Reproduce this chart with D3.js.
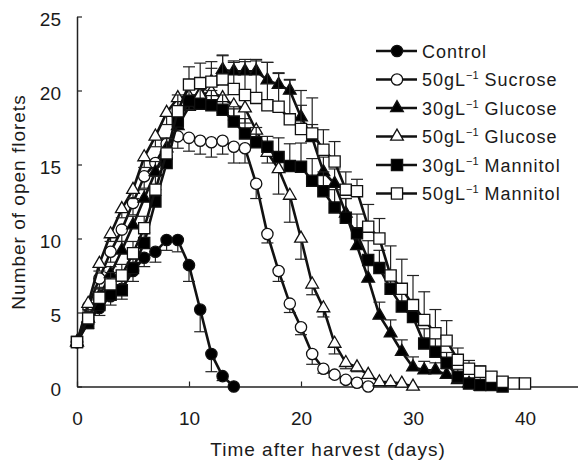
<!DOCTYPE html>
<html>
<head>
<meta charset="utf-8">
<script src="https://cdn.jsdelivr.net/npm/d3@7"></script>
<style>
    body { margin: 0; background: #fff; }
    text { font-family: "Liberation Sans", Arial, sans-serif; fill: #1a1a1a; }
</style>
</head>
<body>
<div id="chart"></div>
<script>

// values per day (index = days after harvest)
const control    = [3.0, 4.4, 5.3, 6.1, 6.6, 7.8, 8.7, 9.1, 9.9, 9.9, 8.2, 5.2, 2.2, 0.7, 0.0];
const controlErr = [0, 0.5, 0.5, 0.6, 0.7, 0.7, 0.6, 0.7, 0.7, 0.8, 1.1, 1.5, 1.2, 0.3, 0];

const sucrose50    = [3.0, 5.4, 7.3, 9.1, 10.6, 12.4, 14.2, 15.1, 16.4, 16.9, 16.8, 16.6, 16.5, 16.6, 16.2, 16.1, 13.7, 10.3, 7.8, 5.6, 4.0, 2.2, 1.2, 0.8, 0.45, 0.25, 0.0];
const sucrose50Err = [0, 0.5, 0.6, 0.7, 0.8, 0.8, 0.8, 0.8, 0.8, 0.8, 0.9, 0.9, 1.0, 0.9, 1.1, 1.0, 1.0, 0.6, 0.7, 0.6, 0.5, 0.7, 0.3, 0.2, 0.2, 0.1, 0];

const glucose30    = [3.0, 4.6, 6.1, 7.6, 9.2, 10.9, 12.7, 14.5, 16.1, 17.6, 18.9, 19.8, 20.6, 21.4, 21.3, 21.3, 21.3, 20.7, 20.4, 20.0, 18.2, 16.8, 14.5, 13.7, 11.7, 9.5, 7.3, 4.8, 3.6, 2.35, 1.3, 1.1, 1.1, 0.8, 0.45, 0.2, 0.0];
const glucose30Err = [0, 0.4, 0.5, 0.5, 0.6, 0.6, 0.6, 0.7, 0.7, 0.8, 0.8, 0.8, 0.9, 1.0, 0.7, 0.8, 0.8, 1.2, 0.8, 0.7, 0.8, 0.9, 1.0, 1.0, 1.0, 1.0, 1.0, 0.9, 0.9, 0.8, 0.7, 0.6, 0.5, 0.4, 0.3, 0.2, 0];

const glucose50    = [3.0, 5.6, 8.3, 10.3, 12.0, 13.3, 15.5, 16.9, 18.5, 19.5, 19.6, 19.7, 19.9, 19.5, 19.0, 18.8, 17.3, 15.8, 14.7, 12.9, 10.0, 6.9, 5.3, 2.9, 1.6, 1.3, 0.8, 0.3, 0.3, 0.2, 0.0];
const glucose50Err = [0, 0.4, 0.5, 0.5, 0.6, 0.6, 0.7, 0.7, 0.8, 0.8, 0.9, 0.9, 1.0, 1.0, 1.0, 1.0, 0.8, 0.7, 1.7, 1.8, 1.4, 0.7, 0.6, 0.7, 0.4, 0.3, 0.2, 0.1, 0.1, 0.1, 0];

const mannitol30    = [3.0, 4.3, 5.5, 6.2, 6.5, 8.0, 9.7, 12.5, 15.1, 17.9, 19.3, 19.1, 19.0, 18.7, 17.9, 17.1, 16.5, 16.2, 15.5, 14.9, 14.85, 13.9, 13.2, 12.1, 11.4, 10.35, 8.55, 8.0, 6.6, 5.4, 4.7, 2.9, 2.35, 1.6, 0.66, 0.2, 0.1, 0.1, 0.0];
const mannitol30Err = [0, 0.4, 0.5, 0.5, 0.6, 0.6, 0.7, 0.8, 0.9, 1.0, 1.0, 1.0, 1.0, 1.0, 1.0, 1.0, 1.0, 0.7, 1.3, 1.5, 1.6, 1.5, 1.3, 1.2, 1.3, 1.3, 1.3, 1.2, 1.2, 1.1, 1.0, 1.0, 0.9, 0.7, 0.5, 0.3, 0.2, 0.1, 0];

const mannitol50    = [3.0, 4.6, 6.0, 6.9, 7.5, 9.0, 10.7, 13.3, 15.75, 18.6, 20.4, 20.5, 20.6, 20.75, 20.1, 19.7, 19.5, 19.0, 18.9, 18.05, 17.4, 17.1, 16.0, 15.2, 13.3, 13.2, 10.8, 10.0, 7.5, 6.6, 5.5, 4.5, 3.6, 3.1, 1.8, 1.2, 1.0, 0.66, 0.32, 0.2, 0.2];
const mannitol50Err = [0, 0.5, 0.6, 0.8, 0.75, 0.8, 0.8, 0.9, 1.0, 1.1, 1.2, 1.35, 1.35, 1.6, 1.8, 2.25, 2.5, 2.9, 2.25, 2.7, 2.6, 2.4, 1.35, 1.35, 1.2, 0.8, 1.5, 1.35, 2.0, 2.0, 2.0, 1.9, 1.6, 1.35, 0.8, 0.56, 0.4, 0.3, 0.2, 0.1, 0.1];

const xTicks = [0, 10, 20, 30, 40];
const yTicks = [0, 5, 10, 15, 20, 25];

// legend text: prefix, superscript, name
const seriesNames = ["Control", "50gL|−1| Sucrose", "30gL|−1| Glucose", "50gL|−1| Glucose", "30gL|−1| Mannitol", "50gL|−1| Mannitol"];

// series list (shape, fill, error direction)
const series = [
    {values: control,    err: controlErr,    shape: d3.symbolCircle,   fill: "#000", dir: -1},
    {values: sucrose50,  err: sucrose50Err,  shape: d3.symbolCircle,   fill: "#fff", dir: -1},
    {values: glucose30,  err: glucose30Err,  shape: d3.symbolTriangle, fill: "#000", dir: 1},
    {values: glucose50,  err: glucose50Err,  shape: d3.symbolTriangle, fill: "#fff", dir: -1},
    {values: mannitol30, err: mannitol30Err, shape: d3.symbolSquare,   fill: "#000", dir: 1},
    {values: mannitol50, err: mannitol50Err, shape: d3.symbolSquare,   fill: "#fff", dir: 1}
];

const width = 578, height = 463;

let svg = d3.select("#chart")
    .append("svg")
    .attr("width", width)
    .attr("height", height);

// scales
let xScale = d3.scaleLinear().domain([0, 45]).range([77, 581]);
let yScale = d3.scaleLinear().domain([0, 25]).range([386.5, 16.5]);

// axes, ticks pointing inward
let xAxis = svg.append("g")
    .attr("transform", "translate(0," + yScale(0) + ")")
    .call(d3.axisBottom(xScale).tickValues(xTicks).tickSize(-5).tickSizeOuter(0).tickPadding(25));
let yAxis = svg.append("g")
    .attr("transform", "translate(" + xScale(0) + ",0)")
    .call(d3.axisLeft(yScale).tickValues(yTicks).tickSize(-5).tickSizeOuter(0).tickPadding(16));

[xAxis, yAxis].forEach(function(ax) {
    ax.select(".domain").attr("stroke", "#222").attr("stroke-width", 1.5);
    ax.selectAll(".tick line").attr("stroke", "#222").attr("stroke-width", 1.2);
    ax.selectAll(".tick text")
        .attr("font-size", 19)
        .attr("font-family", "Liberation Sans, Arial, sans-serif")
        .attr("fill", "#1a1a1a");
});
yAxis.selectAll(".tick text").attr("dy", "0.45em");

// axis titles
svg.append("text")
    .attr("x", 328)
    .attr("y", 456)
    .attr("text-anchor", "middle")
    .attr("font-size", 19)
    .attr("letter-spacing", 1)
    .text("Time after harvest (days)");

svg.append("text")
    .attr("transform", "translate(25,202) rotate(-90)")
    .attr("text-anchor", "middle")
    .attr("font-size", 19)
    .attr("letter-spacing", 1)
    .text("Number of open florets");

// symbol sizes per shape
function symbolSize(shape) {
    if (shape === d3.symbolCircle) return 100;
    if (shape === d3.symbolSquare) return 125;
    return 70;
}

let line = d3.line()
    .x(function(d, i) { return xScale(i); })
    .y(function(d) { return yScale(d); });

series.forEach(function(s) {
    let g = svg.append("g");

    g.append("path")
        .datum(s.values)
        .attr("d", line)
        .attr("fill", "none")
        .attr("stroke", "#111")
        .attr("stroke-width", 2.6);

    // one-sided error bars
    let bars = g.selectAll(".err")
        .data(s.values.map(function(v, i) { return [i, v, s.err[i] || 0]; }).filter(function(d) { return d[2] > 0; }))
        .enter().append("g");
    bars.append("line")
        .attr("x1", function(d) { return xScale(d[0]); })
        .attr("x2", function(d) { return xScale(d[0]); })
        .attr("y1", function(d) { return yScale(d[1]); })
        .attr("y2", function(d) { return yScale(d[1] + s.dir * d[2]); })
        .attr("stroke", "#222").attr("stroke-width", 1.2);
    bars.append("line")
        .attr("x1", function(d) { return xScale(d[0]) - 6; })
        .attr("x2", function(d) { return xScale(d[0]) + 6; })
        .attr("y1", function(d) { return yScale(d[1] + s.dir * d[2]); })
        .attr("y2", function(d) { return yScale(d[1] + s.dir * d[2]); })
        .attr("stroke", "#222").attr("stroke-width", 1.2);

    g.selectAll(".pt")
        .data(s.values)
        .enter().append("path")
        .attr("d", d3.symbol().type(s.shape).size(symbolSize(s.shape)))
        .attr("transform", function(d, i) { return "translate(" + xScale(i) + "," + yScale(d) + ")"; })
        .attr("fill", s.fill)
        .attr("stroke", "#111")
        .attr("stroke-width", 1.3);
});

// legend
let legend = svg.append("g");
seriesNames.forEach(function(name, i) {
    let cy = 51 + i * 28.5;
    let row = legend.append("g");
    row.append("line")
        .attr("x1", 376).attr("x2", 417)
        .attr("y1", cy).attr("y2", cy)
        .attr("stroke", "#111").attr("stroke-width", 2.6);
    row.append("path")
        .attr("d", d3.symbol().type(series[i].shape).size(symbolSize(series[i].shape)))
        .attr("transform", "translate(397," + cy + ")")
        .attr("fill", series[i].fill)
        .attr("stroke", "#111")
        .attr("stroke-width", 1.3);

    let parts = name.split("|");
    let t = row.append("text")
        .attr("x", 422)
        .attr("y", cy + 6.5)
        .attr("font-size", 18)
        .attr("letter-spacing", 1);
    t.append("tspan").text(parts[0]);
    if (parts.length > 1) {
        t.append("tspan").attr("dy", -7).attr("font-size", 11).attr("letter-spacing", 0).text(parts[1]);
        t.append("tspan").attr("dy", 7).text(parts[2]);
    }
});

</script>
</body>
</html>
